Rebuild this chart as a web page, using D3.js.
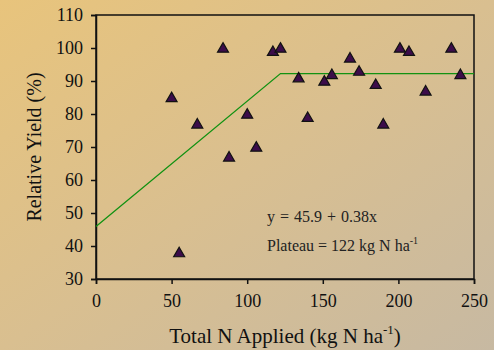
<!DOCTYPE html>
<html>
<head>
<script src="https://d3js.org/d3.v7.min.js"></script>
<style>
body { margin: 0; }
svg text { font-family: "Liberation Serif", "DejaVu Serif", serif; }
</style>
</head>
<body>
<svg width="494" height="350"></svg>
<script>
// data
var nApplied = [50, 55, 67, 84, 88, 100, 106, 117, 122, 134, 140, 151, 156, 168, 174, 185, 190, 201, 207, 218, 235, 241];
var relYield = [85, 38, 77, 100, 67, 80, 70, 99, 100, 91, 79, 90, 92, 97, 93, 89, 77, 100, 99, 87, 100, 92];
var intercept = 45.9, slope = 0.38, plateauX = 122;
var xTicks = [0, 50, 100, 150, 200, 250];
var yTicks = [30, 40, 50, 60, 70, 80, 90, 100, 110];

var svg = d3.select("svg"),
    width = +svg.attr("width"),
    height = +svg.attr("height");
var m = {left: 96, right: 20, top: 15, bottom: 71};

// background gradient
var defs = svg.append("defs");
var grad = defs.append("linearGradient").attr("id", "bg")
  .attr("x1", "0").attr("y1", "0").attr("x2", "1").attr("y2", "1");
grad.append("stop").attr("offset", "0%").attr("stop-color", "#e8c47c");
grad.append("stop").attr("offset", "50%").attr("stop-color", "#d9bf90");
grad.append("stop").attr("offset", "100%").attr("stop-color", "#c7b9a2");
svg.append("rect").attr("width", width).attr("height", height).attr("fill", "url(#bg)");

var x = d3.scaleLinear().domain([0, 250]).range([m.left, width - m.right]);
var y = d3.scaleLinear().domain([30, 110]).range([height - m.bottom, m.top]);

// frame
svg.append("rect")
  .attr("x", x(0)).attr("y", y(110))
  .attr("width", x(250) - x(0)).attr("height", y(30) - y(110))
  .attr("fill", "none").attr("stroke", "#111").attr("stroke-width", 1.5);

var xAxis = svg.append("g")
  .attr("transform", "translate(0," + y(30) + ")")
  .call(d3.axisBottom(x).tickValues(xTicks).tickSize(5).tickPadding(10));
var yAxis = svg.append("g")
  .attr("transform", "translate(" + x(0) + ",0)")
  .call(d3.axisLeft(y).tickValues(yTicks).tickSize(5).tickPadding(8));

[xAxis, yAxis].forEach(function(a) {
  a.attr("font-family", null);
  a.select(".domain").attr("stroke", "#111").attr("stroke-width", 1.5);
  a.selectAll(".tick line").attr("stroke", "#111").attr("stroke-width", 1.5);
  a.selectAll(".tick text")
    .style("font-size", "18px")
    .attr("fill", "#111");
});

// fitted linear-plateau line
var plateauY = intercept + slope * plateauX;
var fit = [[0, intercept], [plateauX, plateauY], [250, plateauY]];
svg.append("path")
  .datum(fit)
  .attr("d", d3.line().x(function(d) { return x(d[0]); }).y(function(d) { return y(d[1]); }))
  .attr("fill", "none").attr("stroke", "#129212").attr("stroke-width", 1.3);

// points
var tri = d3.symbol().type(d3.symbolTriangle).size(52);
svg.selectAll(".pt")
  .data(nApplied)
  .enter()
  .append("path")
  .attr("class", "pt")
  .attr("d", tri)
  .attr("transform", function(d, i) { return "translate(" + x(d) + "," + (y(relYield[i]) + 1) + ")"; })
  .attr("fill", "#3c0c4a").attr("stroke", "#111").attr("stroke-width", 1.2);

// annotations
var txt = svg.append("g")
  .style("font-size", "16px")
  .attr("fill", "#222");
txt.append("text").attr("x", 267).attr("y", 222)
  .style("word-spacing", "1px")
  .text("y = 45.9 + 0.38x");
var pl = txt.append("text").attr("x", 267).attr("y", 251);
pl.append("tspan").text("Plateau = 122 kg N ha");
pl.append("tspan").attr("dy", -7).style("font-size", "10px").text("-1");

// axis titles
var xt = svg.append("text")
  .attr("x", 285).attr("y", 343)
  .attr("text-anchor", "middle")
  .style("font-size", "21px")
  .attr("fill", "#111");
xt.append("tspan").text("Total N Applied (kg N ha");
xt.append("tspan").attr("dy", -9).style("font-size", "13px").text("-1");
xt.append("tspan").attr("dy", 9).text(")");

svg.append("text")
  .attr("transform", "translate(41," + ((y(30) + y(110)) / 2) + ") rotate(-90)")
  .attr("text-anchor", "middle")
  .style("font-size", "20px")
  .attr("fill", "#111")
  .text("Relative Yield (%)");
</script>
</body>
</html>
